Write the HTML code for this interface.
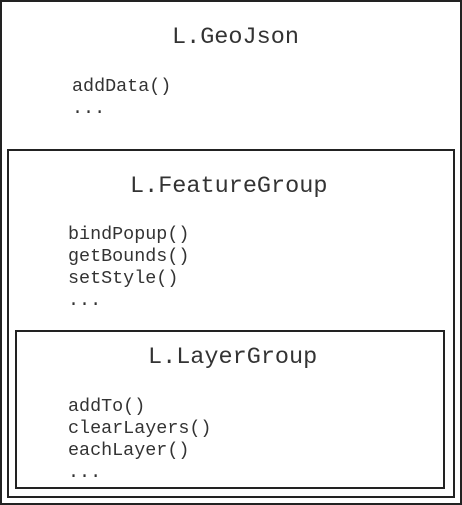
<!DOCTYPE html>
<html><head><style>
body{margin:0;width:462px;height:505px;background:#fff;position:relative;overflow:hidden;font-family:"Liberation Mono",monospace;color:#333}
.b{position:absolute;border:2px solid #222;box-sizing:border-box}
.t{position:absolute;font-size:23.5px;line-height:26px;white-space:pre}
.m{position:absolute;font-size:18.4px;line-height:22px;white-space:pre}
</style></head><body>
<div class="b" style="left:0;top:0;width:462px;height:505px"></div>
<div class="b" style="left:7px;top:149px;width:448px;height:349px"></div>
<div class="b" style="left:15px;top:330px;width:430px;height:159px"></div>
<div class="t" style="left:172px;top:25px">L.GeoJson</div>
<div class="m" style="left:72px;top:76px">addData()
...</div>
<div class="t" style="left:130px;top:174px">L.FeatureGroup</div>
<div class="m" style="left:68px;top:224px">bindPopup()
getBounds()
setStyle()
...</div>
<div class="t" style="left:148px;top:345px">L.LayerGroup</div>
<div class="m" style="left:68px;top:396px">addTo()
clearLayers()
eachLayer()
...</div>
</body></html>
